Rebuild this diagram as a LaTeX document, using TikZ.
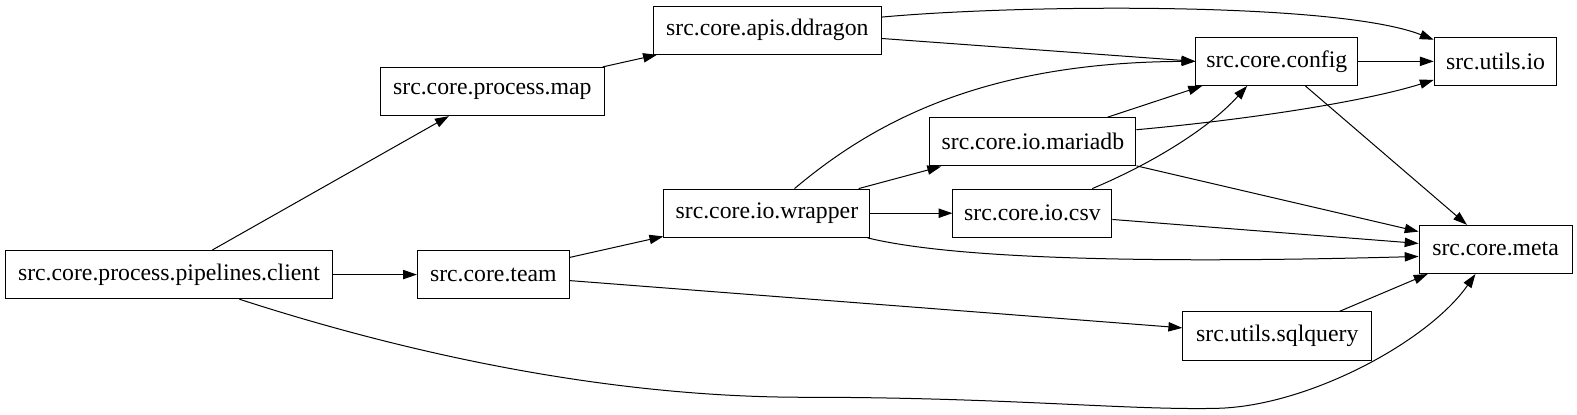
\documentclass[tikz,border=0pt]{standalone}
\usepackage{fontspec}
\setmainfont{Liberation Serif}
\usepackage{tikz}
\usetikzlibrary{
    arrows.meta,
    calc
}

\begin{document}
\begin{tikzpicture}[x=0.7543pt, y=-0.7543pt,
    mod/.style={draw, line width=0.75pt, minimum height=36.2pt, inner sep=0pt,
        font=\fontsize{17.8}{20}\selectfont},
    dep/.style={line width=0.75pt, -{Triangle[length=10.4pt, width=7pt]}}]
\useasboundingbox (0,0) rectangle (1568,412);

\node[mod, minimum width=245.9pt] (client) at (168,273) {src.core.process.pipelines.client};
\node[mod, minimum width=113.9pt] (team) at (490.5,273) {src.core.team};
\node[mod, minimum width=168.2pt] (map) at (489.5,91) {src.core.process.map};
\node[mod, minimum width=170.5pt] (ddragon) at (763,30) {src.core.apis.ddragon};
\node[mod, minimum width=154.6pt] (wrapper) at (762.5,212) {src.core.io.wrapper};
\node[mod, minimum width=154.6pt] (mariadb) at (1027,141) {src.core.io.mariadb};
\node[mod, minimum width=119.2pt] (csv) at (1026.5,212) {src.core.io.csv};
\node[mod, minimum width=141.8pt] (sqlquery) at (1270,334) {src.utils.sqlquery};
\node[mod, minimum width=121.4pt] (config) at (1269.5,61) {src.core.config};
\node[mod, minimum width=92pt] (utilsio) at (1487,61) {src.utils.io};
\node[mod, minimum width=114.7pt] (meta) at (1487,248) {src.core.meta};

% client
\draw[dep] (client) -- (map);
\draw[dep] (client) -- (team);
\draw[dep] ($(client.south)+(70,0)$) .. controls (400,350) and (600,395) .. (800,395)
    .. controls (1000,395) and (1120,408) .. (1210,406)
    .. controls (1300,404) and (1420,340) .. ($(meta.south)+(-20,0)$);

% team, map
\draw[dep] (team) -- (wrapper);
\draw[dep] ($(team.east)+(0,6)$) -- ($(sqlquery.west)+(0,-8)$);
\draw[dep] (map) -- (ddragon);

% ddragon
\draw[dep] ($(ddragon.east)+(0,-13)$) .. controls (1020,4) and (1330,2) .. ($(utilsio.north west)+(0,3)$);
\draw[dep] (ddragon) -- (config.west);

% wrapper
\draw[dep] ($(wrapper.north)+(27.5,0)$) .. controls (870,120) and (980,62) .. (config.west);
\draw[dep] (wrapper) -- (mariadb);
\draw[dep] (wrapper) -- (csv);
\draw[dep] ($(wrapper.south east)+(-3,0)$) .. controls (950,258) and (1150,262) .. ($(meta.west)+(0,7)$);

% mariadb, csv
\draw[dep] (mariadb) -- (config);
\draw[dep] ($(mariadb.east)+(0,-12)$) .. controls (1250,118) and (1360,100) .. ($(utilsio.south west)+(0,-6)$);
\draw[dep] (mariadb) -- (meta);
\draw[dep] ($(csv.north east)+(-20,0)$) .. controls (1140,165) and (1200,130) .. ($(config.south)+(-29.5,0)$);
\draw[dep] (csv) -- (meta);

% config, sqlquery
\draw[dep] (config) -- (utilsio);
\draw[dep] (config) -- (meta);
\draw[dep] ($(sqlquery.north)+(62,0)$) -- ($(meta.south west)+(9,0)$);
\end{tikzpicture}
\end{document}
